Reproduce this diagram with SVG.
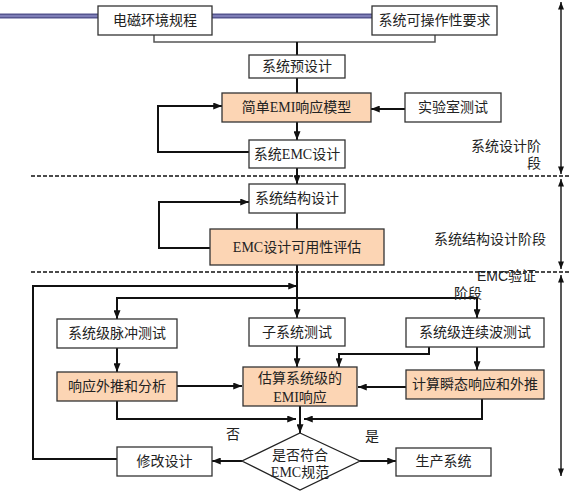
<svg xmlns="http://www.w3.org/2000/svg" width="570" height="497" viewBox="0 0 570 497">
<style>
.box{fill:#fff;stroke:#333;stroke-width:1.3}
.pk{fill:#fcd5b4;stroke:#333;stroke-width:1.3}
.t{font-family:"Liberation Serif","Noto Sans CJK SC",serif;font-size:14px;fill:#222;text-anchor:middle}
.lbl{font-family:"Liberation Serif","Noto Sans CJK SC",serif;font-size:14px;fill:#222}
.sans{font-family:"Liberation Sans","Noto Sans CJK SC",sans-serif;font-size:14px;fill:#222}
.c{fill:none;stroke:#111;stroke-width:2}
.a{fill:none;stroke:#111;stroke-width:2;marker-end:url(#ah)}
.d{fill:none;stroke:#111;stroke-width:1.6;stroke-dasharray:4 2}
.r{fill:none;stroke:#111;stroke-width:1.4;marker-start:url(#ah2);marker-end:url(#ah2)}
</style>
<defs>
<marker id="ah" viewBox="0 0 10 8" refX="10" refY="4" markerWidth="10" markerHeight="7" markerUnits="userSpaceOnUse" orient="auto-start-reverse"><path d="M0,0 L10,4 L0,8 z" fill="#111"/></marker>
<marker id="ah2" viewBox="0 0 10 8" refX="10" refY="4" markerWidth="9" markerHeight="6" markerUnits="userSpaceOnUse" orient="auto-start-reverse"><path d="M0,0 L10,4 L0,8 z" fill="#111"/></marker>
</defs>
<rect width="570" height="497" fill="#fff"/>
<g id="topbar">
<line x1="0" y1="16" x2="372" y2="16" stroke="#55558f" stroke-width="5"/>
<line x1="0" y1="16" x2="372" y2="16" stroke="#8c8cc4" stroke-width="1.5"/>
</g>
<g id="connectors">
<polyline points="154,35 154,42 435,42 435,35" fill="none" stroke="#555" stroke-width="1.5"/>
<line class="c" x1="297" y1="42" x2="297" y2="55"/>
<line class="c" x1="297" y1="78" x2="297" y2="93"/>
<line class="a" x1="405" y1="109" x2="371" y2="109"/>
<line class="a" x1="297" y1="122" x2="297" y2="140"/>
<polyline class="a" points="249,152 158,152 158,106 222,106"/>
<line class="a" x1="297" y1="168" x2="297" y2="184"/>
<polyline class="a" points="210,248 159,248 159,202 249,202"/>
<line class="c" x1="297" y1="213" x2="297" y2="229"/>
<line class="a" x1="297" y1="265" x2="297" y2="318"/>
<polyline class="a" points="117,459 33,459 33,286 297,286"/>
<path class="a" d="M297,298 H117 V319"/>
<path class="a" d="M297,298 H477 V318"/>
<line class="a" x1="117" y1="348" x2="117" y2="372"/>
<line class="a" x1="177" y1="386" x2="242" y2="386"/>
<line class="a" x1="297" y1="346" x2="297" y2="367"/>
<path class="a" d="M429,347 V354 H339 V367"/>
<line class="a" x1="477" y1="347" x2="477" y2="370"/>
<line class="a" x1="406" y1="387" x2="358" y2="387"/>
<path class="a" d="M117,401 V419 H296"/>
<path class="a" d="M482,399 V419 H304"/>
<line class="a" x1="300" y1="406" x2="300" y2="433"/>
<line class="a" x1="242" y1="461" x2="212" y2="461"/>
<line class="a" x1="360" y1="461" x2="396" y2="461"/>
</g>
<g id="stages">
<line class="d" x1="31" y1="176" x2="570" y2="176"/>
<line class="d" x1="31" y1="272" x2="570" y2="272"/>
<line class="r" x1="561" y1="2" x2="561" y2="174"/>
<line class="r" x1="561" y1="179" x2="561" y2="269"/>
<line class="r" x1="561" y1="275" x2="561" y2="476"/>
<text class="lbl" x="541" y="151" text-anchor="end">系统设计阶</text>
<text class="lbl" x="541" y="168" text-anchor="end">段</text>
<text class="lbl" x="434" y="244">系统结构设计阶段</text>
<text class="sans" x="477" y="281">EMC验证</text>
<text class="sans" x="454" y="298">阶段</text>
<text class="t" x="233" y="439">否</text>
<text class="t" x="372" y="441">是</text>
</g>
<g id="n_emenv"><rect class="box" x="98" y="6" width="114" height="29"/><text class="t" x="155" y="25">电磁环境规程</text></g>
<g id="n_opreq"><rect class="box" x="372" y="6" width="125" height="29"/><text class="t" x="434.5" y="25">系统可操作性要求</text></g>
<g id="n_predesign"><rect class="box" x="249" y="55" width="96" height="23"/><text class="t" x="297" y="71">系统预设计</text></g>
<g id="n_emimodel"><rect class="pk" x="222" y="93" width="149" height="29"/><text class="t" x="296.5" y="112">简单EMI响应模型</text></g>
<g id="n_lab"><rect class="box" x="405" y="93" width="96" height="29"/><text class="t" x="453" y="112">实验室测试</text></g>
<g id="n_emcdesign"><rect class="box" x="249" y="140" width="96" height="28"/><text class="t" x="297" y="159">系统EMC设计</text></g>
<g id="n_struct"><rect class="box" x="249" y="184" width="96" height="29"/><text class="t" x="297" y="203">系统结构设计</text></g>
<g id="n_eval"><rect class="pk" x="210" y="229" width="174" height="36"/><text class="t" x="297" y="252">EMC设计可用性评估</text></g>
<g id="n_pulse"><rect class="box" x="57" y="319" width="120" height="29"/><text class="t" x="117" y="338">系统级脉冲测试</text></g>
<g id="n_sub"><rect class="box" x="249" y="318" width="96" height="28"/><text class="t" x="297" y="337">子系统测试</text></g>
<g id="n_cw"><rect class="box" x="406" y="318" width="138" height="29"/><text class="t" x="475" y="337">系统级连续波测试</text></g>
<g id="n_extrap"><rect class="pk" x="57" y="372" width="120" height="29"/><text class="t" x="117" y="391">响应外推和分析</text></g>
<g id="n_estimate"><rect class="pk" x="243" y="367" width="114" height="39"/><text class="t" x="300" y="383">估算系统级的</text><text class="t" x="300" y="402">EMI响应</text></g>
<g id="n_transient"><rect class="pk" x="406" y="370" width="138" height="29"/><text class="t" x="475" y="389">计算瞬态响应和外推</text></g>
<g id="n_decision"><polygon points="300,433 360,461 300,490 242,461" fill="#fff" stroke="#222" stroke-width="1.3"/><text class="t" x="300" y="460">是否符合</text><text class="t" x="300" y="477">EMC规范</text></g>
<g id="n_modify"><rect class="box" x="117" y="447" width="95" height="29"/><text class="t" x="164.5" y="466">修改设计</text></g>
<g id="n_production"><rect class="box" x="396" y="448" width="95" height="28"/><text class="t" x="443.5" y="466">生产系统</text></g>
</svg>
